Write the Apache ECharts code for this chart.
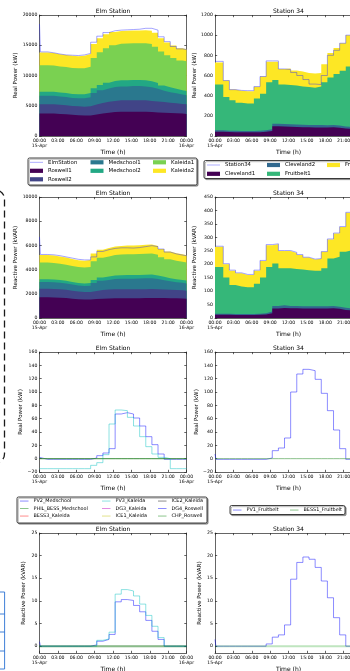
<!DOCTYPE html>
<html>
<head>
<meta charset="utf-8">
<script src="https://cdn.jsdelivr.net/npm/echarts@6/dist/echarts.min.js"></script>
<style>
html,body{margin:0;padding:0;background:#fff;}
#chart{width:350px;height:671px;}
</style>
</head>
<body>
<div id="chart"></div>
<script>
// ---- time grid: sample start times on 15-Apr (hours since midnight) ----
// samples land about 21 minutes past each hour; the first one holds from midnight
const sampleHours = [0,1.35,2.35,3.35,4.35,5.35,6.35,7.35,8.35,9.35,10.35,11.35,12.35,13.35,14.35,15.35,16.35,17.35,18.35,19.35,20.35,21.35,22.35,23.35];
const dayEnd = 24;
const firstSampleEnd = 0.15;   // the opening sample of a recorded trace lasts a few minutes

// ---- Elm Station, real power by feeder (kW) ----
const elmRoswell1P   = [3700,3700,3650,3600,3500,3450,3400,3400,3550,3700,3850,3950,4000,4000,4000,4000,4000,3950,3900,3850,3800,3750,3700,3650];
const elmRoswell2P   = [1550,1550,1500,1500,1450,1450,1450,1500,1650,1750,1800,1850,1900,1900,1900,1900,1900,1850,1800,1750,1700,1650,1600,1600];
const elmMedschool1P = [1400,1400,1380,1350,1350,1350,1400,1500,1900,2100,2200,2300,2300,2300,2350,2350,2300,2250,2100,1900,1750,1650,1550,1500];
const elmMedschool2P = [650,650,650,650,650,650,650,700,800,900,950,1000,1000,1000,1000,1000,1000,1000,950,850,800,750,700,700];
const elmKaleida1P   = [4400,4350,4300,4300,4300,4300,4300,4350,5000,5400,5700,5900,6050,6100,6100,6100,6150,6150,6000,5600,5300,5100,4950,4900];
const elmKaleida2P   = [2100,2050,2050,2000,2000,2000,2050,2100,2300,2300,2300,2200,2100,2100,2100,2100,2150,2200,2300,2200,2100,2050,2000,2000];
const elmStationPStart = 18500;
const elmStationP    = [13900,13750,13550,13400,13350,13300,13400,13650,15500,16500,17100,17400,17500,17550,17600,17650,17800,17800,17500,16400,15600,14800,14400,14300];

// ---- Station 34, real power by feeder (kW) ----
const s34Cleveland1P = [42,40,38,37,37,37,38,42,50,97,95,92,90,88,86,85,85,84,88,82,75,70,65,55];
const s34Cleveland2P = [14,13,13,13,13,13,14,15,18,25,25,24,24,23,23,23,23,22,22,21,20,19,18,16];
const s34Fruitbelt1P = [454,335,304,280,273,273,319,363,465,434,390,389,386,380,376,370,382,427,471,511,551,601,637,629];
const s34Fruitbelt2P = [220,162,105,118,122,122,117,170,203,180,155,165,150,149,140,142,135,178,243,258,275,310,360,350];
const s34StationPStart = 740;
const s34StationP    = [740,550,460,452,450,450,490,590,745,745,665,660,630,600,560,515,510,600,800,850,920,1000,1100,1050];

// ---- Elm Station, reactive power by feeder (kVAR) ----
const elmRoswell1Q   = [1720,1700,1680,1650,1600,1550,1530,1530,1560,1600,1620,1640,1640,1640,1640,1640,1650,1660,1660,1650,1640,1630,1620,1600];
const elmRoswell2Q   = [700,700,690,680,650,630,610,620,680,720,730,730,730,730,730,730,730,730,720,700,690,680,670,660];
const elmMedschool1Q = [550,550,540,520,510,500,500,520,650,750,800,850,870,880,880,890,900,900,850,780,700,650,620,600];
const elmMedschool2Q = [230,230,225,220,220,220,220,230,260,280,290,300,300,300,300,300,300,300,290,270,260,250,240,240];
const elmKaleida1Q   = [1380,1370,1350,1330,1320,1310,1310,1320,1550,1620,1650,1680,1700,1720,1720,1730,1740,1750,1700,1620,1560,1520,1500,1480];
const elmKaleida2Q   = [620,610,600,590,580,570,570,580,640,680,700,710,720,720,720,720,730,740,730,690,650,630,620,610];
const elmStationQStart = 6700;
const elmStationQ    = [5250,5220,5150,5050,4950,4850,4800,4800,5050,5500,5650,5750,5800,5800,5780,5820,5900,5980,5900,5700,5450,5300,5200,5150];

// ---- Station 34, reactive power by feeder (kVAR) ----
const s34Cleveland1Q = [12,12,11,11,11,11,12,13,18,35,37,36,36,35,35,35,35,35,36,34,30,28,25,20];
const s34Cleveland2Q = [4,4,4,4,4,4,4,5,6,10,10,9,9,9,9,9,9,9,9,8,8,7,7,6];
const s34Fruitbelt1Q = [174,135,108,102,99,99,111,133,166,158,138,140,137,136,134,132,132,141,176,186,208,217,228,229];
const s34Fruitbelt2Q = [75,49,53,49,46,46,49,61,81,71,64,64,60,54,47,42,44,61,71,86,92,139,140,95];
const s34StationQStart = 267;
const s34StationQ    = [267,202,178,168,162,162,178,214,273,276,251,251,244,236,226,219,221,247,294,316,340,393,402,352];

// ---- distributed energy resources, real power (kW) ----
const zeros24 = [0,0,0,0,0,0,0,0,0,0,0,0,0,0,0,0,0,0,0,0,0,0,0,0];
const pv2MedschoolPStart = 2;
const pv2MedschoolP = [-1,-1,-1,-1,-1,-1,-1,-1,1,4.5,8.5,15,67,69,67,61,49,33,21,7,-1,-1,-1,-1];
const pv3KaleidaPStart = -15;
const pv3KaleidaP   = [-15,-15,-15,-15,-15,-15,-15,-15,-10,-6,6,52,73,72,62,49,33,18,7,2,0,-15,-15,-15];
const pv1FruitbeltPStart = 7;
const pv1FruitbeltP = [-1,-1,-1,-1,-1,-1,-1,-1,1,12,16,31,100,127,134,132,119,98,72,43,15,-1,-1,-1];

// ---- distributed energy resources, reactive power (kVAR) ----
const pv2MedschoolQStart = 1;
const pv2MedschoolQ = [0,0,0,0,0,0,0,0,0.3,1.1,1.5,2.6,9.8,10.3,10.1,9,7.6,5.7,3.3,1.5,0,0,0,0];
const pv3KaleidaQStart = 0;
const pv3KaleidaQ   = [0,0,0,0,0,0,0,0,0,1.3,1.6,3.1,11.5,12.5,12.2,11.1,9.3,6.8,4.4,1.9,0,0,0,0];
const pv1FruitbeltQStart = 1.5;
const pv1FruitbeltQ = [0,0,0,0,0,0,0,0,0.5,2.0,2.5,4.7,14.8,18.5,19.7,19.2,17.4,14.4,10.7,6.3,2.5,0,0,0];

// ---- labels ----
const elmFeeders = ['Roswell1','Roswell2','Medschool1','Medschool2','Kaleida1','Kaleida2'];
const s34Feeders = ['Cleveland1','Cleveland2','Fruitbelt1','Fruitbelt2'];
const elmDers = ['PV2_Medschool','PHIL_BESS_Medschool','BESS3_Kaleida','PV3_Kaleida','DG3_Kaleida','ICE1_Kaleida','ICE2_Kaleida','DG4_Roswell','CHP_Roswell'];
const s34Ders = ['PV1_Fruitbelt','BESS1_Fruitbelt'];
const timeTicks = ['00:00','03:00','06:00','09:00','12:00','15:00','18:00','21:00','00:00'];
const dayLabels = ['15-Apr','16-Apr'];

// ---- colours ----
const viridis6 = ['#440154','#414487','#2a788e','#22a884','#7ad151','#fde725'];
const viridis4 = ['#440154','#31688e','#35b779','#fde725'];
const cycle = ['rgba(0,0,255,0.5)','rgba(0,128,0,0.5)','rgba(255,0,0,0.5)','rgba(0,191,191,0.5)','rgba(191,0,191,0.5)','rgba(191,191,0,0.5)','rgba(0,0,0,0.5)','rgba(0,0,255,0.5)','rgba(0,128,0,0.5)'];
const totalLine = 'rgba(40,40,255,0.42)';
const FONT = 'DejaVu Sans';

// ---- helpers ----
function steps(vals) {
  const pts = vals.map((v, i) => [sampleHours[i], v]);
  pts.push([dayEnd, vals[vals.length - 1]]);
  return pts;
}
function stepsWithStart(start, vals) {
  const pts = steps(vals);
  pts[0] = [firstSampleEnd, vals[0]];
  pts.unshift([0, start]);
  return pts;
}
function runningTotals(layers) {
  const out = [];
  let acc = layers[0].map(() => 0);
  layers.forEach(l => { acc = acc.map((a, i) => a + l[i]); out.push(acc); });
  return out;
}
function timeLabel(v) {
  const t = timeTicks[Math.round(v / 3)];
  if (v === 0) return t + '\n' + dayLabels[0];
  if (v === dayEnd) return t + '\n' + dayLabels[1];
  return t;
}
const axisColor = '#222';

const panels = [
  {left: 39.5, top: 15,  h: 121, min: 0,    max: 20000, ticks: [0,5000,10000,15000,20000], yName: 'Real Power (kW)',       gap: 19,   title: 'Elm Station'},
  {left: 215,  top: 15,  h: 121, min: 0,    max: 1200,  ticks: [0,200,400,600,800,1000,1200], yName: 'Real Power (kW)',   gap: 17,   title: 'Station 34'},
  {left: 39.5, top: 197, h: 121, min: 0,    max: 10000, ticks: [0,2000,4000,6000,8000,10000], yName: 'Reactive Power (kVAR)', gap: 19, title: 'Elm Station'},
  {left: 215,  top: 197, h: 121, min: 0,    max: 450,   ticks: [0,50,100,150,200,250,300,350,400,450], yName: 'Reactive Power (kVAR)', gap: 17, title: 'Station 34'},
  {left: 39.5, top: 352, h: 120, min: -20,  max: 160,   ticks: [-20,0,20,40,60,80,100,120,140,160], yName: 'Real Power (kW)', gap: 16, title: 'Elm Station'},
  {left: 215,  top: 352, h: 120, min: -20,  max: 160,   ticks: [-20,0,20,40,60,80,100,120,140,160], yName: 'Real Power (kW)', gap: 15, title: 'Station 34'},
  {left: 39.5, top: 533, h: 120, min: -1.5, max: 25,    ticks: [0,5,10,15,20,25], yName: 'Reactive Power (kVAR)', gap: 12.5, title: 'Elm Station'},
  {left: 215,  top: 533, h: 120, min: -1.5, max: 25,    ticks: [0,5,10,15,20,25], yName: 'Reactive Power (kVAR)', gap: 12,   title: 'Station 34'}
];
const plotWidth = 147;

const grid = [], xAxis = [], yAxis = [], title = [], series = [];
const lineStyleAxis = {color: axisColor, width: 0.7};
panels.forEach((p, i) => {
  grid.push({left: p.left, top: p.top, width: plotWidth, height: p.h, containLabel: false, outerBoundsMode: 'none'});
  title.push({
    text: p.title, left: p.left + plotWidth / 2, top: p.top - 7.5, textAlign: 'center', padding: 0,
    textStyle: {fontFamily: FONT, fontSize: 6, fontWeight: 'normal', color: '#000', lineHeight: 7}
  });
  const xCommon = {
    gridIndex: i, type: 'value', min: 0, max: dayEnd, interval: 3,
    axisLine: {show: true, onZero: false, lineStyle: lineStyleAxis},
    axisTick: {show: true, inside: true, length: 2.2, lineStyle: lineStyleAxis},
    splitLine: {show: false}
  };
  xAxis.push(Object.assign({}, xCommon, {
    position: 'bottom',
    axisLabel: {formatter: timeLabel, fontFamily: FONT, fontSize: 4.6, lineHeight: 5.6, color: '#000', margin: 1.8, showMinLabel: true, showMaxLabel: true, hideOverlap: false},
    name: 'Time (h)', nameLocation: 'middle', nameGap: 13.2,
    nameTextStyle: {fontFamily: FONT, fontSize: 6, color: '#000'}
  }));
  xAxis.push(Object.assign({}, xCommon, {position: 'top', axisLabel: {show: false}}));
  const yCommon = {
    gridIndex: i, type: 'value', min: p.min, max: p.max,
    axisLine: {show: true, onZero: false, lineStyle: lineStyleAxis},
    axisTick: {show: true, inside: true, length: 2.2, lineStyle: lineStyleAxis, customValues: p.ticks},
    splitLine: {show: false}
  };
  yAxis.push(Object.assign({}, yCommon, {
    position: 'left',
    axisLabel: {customValues: p.ticks, fontFamily: FONT, fontSize: 4.6, color: '#000', margin: 2.2,
      formatter: v => String(v).replace('-', '\u2212')},
    name: p.yName, nameLocation: 'middle', nameGap: p.gap, nameRotate: 90,
    nameTextStyle: {fontFamily: FONT, fontSize: 5.6, color: '#000'}
  }));
  yAxis.push(Object.assign({}, yCommon, {position: 'right', axisLabel: {show: false}}));
});

// stacked feeder areas: running totals drawn from the top layer down
function addStack(panelIdx, names, colors, layers) {
  const totals = runningTotals(layers);
  for (let k = layers.length - 1; k >= 0; k--) {
    series.push({
      type: 'line', name: names[k], xAxisIndex: panelIdx * 2, yAxisIndex: panelIdx * 2,
      step: 'end', symbol: 'none', silent: true, data: steps(totals[k]),
      itemStyle: {color: colors[k]}, lineStyle: {width: 0, opacity: 0},
      areaStyle: {color: colors[k], opacity: 1}
    });
  }
}
function addLine(panelIdx, name, color, width, start, vals) {
  series.push({
    type: 'line', name: name, xAxisIndex: panelIdx * 2, yAxisIndex: panelIdx * 2,
    step: 'end', symbol: 'none', silent: true, data: stepsWithStart(start, vals),
    itemStyle: {color: color}, lineStyle: {color: color, width: width}
  });
}

addStack(0, elmFeeders, viridis6, [elmRoswell1P, elmRoswell2P, elmMedschool1P, elmMedschool2P, elmKaleida1P, elmKaleida2P]);
addLine(0, 'ElmStation', totalLine, 1, elmStationPStart, elmStationP);
addStack(1, s34Feeders, viridis4, [s34Cleveland1P, s34Cleveland2P, s34Fruitbelt1P, s34Fruitbelt2P]);
addLine(1, 'Station34', totalLine, 1, s34StationPStart, s34StationP);
addStack(2, elmFeeders, viridis6, [elmRoswell1Q, elmRoswell2Q, elmMedschool1Q, elmMedschool2Q, elmKaleida1Q, elmKaleida2Q]);
addLine(2, 'ElmStation', totalLine, 1, elmStationQStart, elmStationQ);
addStack(3, s34Feeders, viridis4, [s34Cleveland1Q, s34Cleveland2Q, s34Fruitbelt1Q, s34Fruitbelt2Q]);
addLine(3, 'Station34', totalLine, 1, s34StationQStart, s34StationQ);

// resource traces; idle units sit on the zero line beneath the green ones
const elmDerP = {PV2_Medschool: [pv2MedschoolPStart, pv2MedschoolP], PV3_Kaleida: [pv3KaleidaPStart, pv3KaleidaP]};
const elmDerQ = {PV2_Medschool: [pv2MedschoolQStart, pv2MedschoolQ], PV3_Kaleida: [pv3KaleidaQStart, pv3KaleidaQ]};
const idleP = 'rgba(0,0,0,0.03)';
const greenP = 'rgba(40,140,40,0.6)';
const greenQ = 'rgba(0,150,0,0.2)';
elmDers.forEach((n, k) => {
  const d = elmDerP[n];
  if (d) addLine(4, n, cycle[k], 0.9, d[0], d[1]);
  else addLine(4, n, (k === 1 || k === 8) ? greenP : idleP, 0.9, 0, zeros24);
});
elmDers.forEach((n, k) => {
  const d = elmDerQ[n];
  if (d) addLine(6, n, cycle[k], 0.9, d[0], d[1]);
  else addLine(6, n, (k === 1 || k === 8) ? greenQ : idleP, 2, 0, zeros24);
});
addLine(5, 'PV1_Fruitbelt', cycle[0], 0.9, pv1FruitbeltPStart, pv1FruitbeltP);
addLine(5, 'BESS1_Fruitbelt', greenP, 0.9, 0, zeros24);
addLine(7, 'PV1_Fruitbelt', cycle[0], 0.9, pv1FruitbeltQStart, pv1FruitbeltQ);
addLine(7, 'BESS1_Fruitbelt', 'rgba(0,150,0,0.25)', 2, 0, zeros24);

// ---- legends (one component per column; thin bars stand for traces) ----
function legendCol(names, left, top, o, colorMap) {
  return {
    orient: 'vertical', left: left, top: top, padding: 0,
    itemWidth: o.iw, itemHeight: o.ih, itemGap: o.gap, selectedMode: false,
    textStyle: {fontFamily: FONT, fontSize: o.fs, lineHeight: o.lh, color: '#000'},
    data: names.map(n => {
      const item = {name: n, icon: 'rect'};
      if (colorMap && colorMap[n]) item.itemStyle = {color: colorMap[n]};
      return item;
    })
  };
}
const lgA = {iw: 13, ih: 4.2, gap: 2.5, fs: 5.4, lh: 6};
const lgLine = {iw: 13, ih: 0.9, gap: 2.5, fs: 5.4, lh: 6};
const lgB = {iw: 8.5, ih: 0.9, gap: 2, fs: 4.9, lh: 5.5};
const legendColors = {};
elmDers.forEach((n, k) => { legendColors[n] = cycle[k]; });
s34Ders.forEach((n, k) => { legendColors[n] = cycle[k]; });
const legend = [
  legendCol(['ElmStation'], 30, 159.3, lgLine, {ElmStation: totalLine}),
  legendCol(['Roswell1','Roswell2'], 30, 167.8, lgA),
  legendCol(['Medschool1','Medschool2'], 90.5, 159.3, lgA),
  legendCol(['Kaleida1','Kaleida2'], 153, 159.3, lgA),
  legendCol(['Station34'], 207, 162, lgLine, {Station34: totalLine}),
  legendCol(['Cleveland1'], 207, 170.8, lgA),
  legendCol(['Cleveland2','Fruitbelt1'], 267, 162, Object.assign({}, lgA, {gap: 2.8})),
  legendCol(['Fruitbelt2'], 327, 162, lgA),
  legendCol(elmDers.slice(0,3), 20, 498.3, lgB, legendColors),
  legendCol(elmDers.slice(3,6), 102, 498.3, lgB, legendColors),
  legendCol(elmDers.slice(6,9), 158, 498.3, lgB, legendColors),
  legendCol(['PV1_Fruitbelt'], 233, 507.3, lgB, legendColors),
  legendCol(['BESS1_Fruitbelt'], 290, 507.3, lgB, legendColors)
];

// ---- frames around legend groups and page outlines ----
function frame(x, y, w, h) {
  return {
    type: 'rect', shape: {x: x, y: y, width: w, height: h, r: 1.5}, z: 1,
    style: {fill: '#fff', stroke: '#111', lineWidth: 0.8, shadowBlur: 0, shadowOffsetX: 1.2, shadowOffsetY: 1.2, shadowColor: 'rgba(0,0,0,0.35)'}
  };
}
const blue = '#2a72d2';
const graphic = [
  frame(28, 158, 169, 27),
  frame(204, 160.5, 180, 18),
  frame(17, 497, 190, 26),
  frame(230, 505.5, 115, 9),
  {type: 'rect', shape: {x: -120, y: 190, width: 124.5, height: 273, r: 9}, silent: true,
    style: {fill: 'none', stroke: '#1a1a1a', lineWidth: 1.3, lineDash: [7, 4]}},
  {type: 'group', silent: true, children: [
    {type: 'line', shape: {x1: 4.6, y1: 592, x2: 4.6, y2: 669}, style: {stroke: blue, lineWidth: 0.9}},
    {type: 'line', shape: {x1: 0, y1: 592, x2: 4.6, y2: 592}, style: {stroke: blue, lineWidth: 0.9}},
    {type: 'line', shape: {x1: 0, y1: 614, x2: 4.6, y2: 614}, style: {stroke: blue, lineWidth: 0.9}},
    {type: 'line', shape: {x1: 0, y1: 632, x2: 4.6, y2: 632}, style: {stroke: blue, lineWidth: 0.9}},
    {type: 'line', shape: {x1: 0, y1: 651, x2: 4.6, y2: 651}, style: {stroke: blue, lineWidth: 0.9}},
    {type: 'line', shape: {x1: 0, y1: 669, x2: 4.6, y2: 669}, style: {stroke: blue, lineWidth: 0.9}}
  ]}
];

const chart = echarts.init(document.getElementById('chart'), null, {renderer: 'canvas'});
chart.setOption({
  animation: false,
  backgroundColor: '#fff',
  title: title, grid: grid, xAxis: xAxis, yAxis: yAxis,
  legend: legend, graphic: graphic, series: series
});
</script>
</body>
</html>
